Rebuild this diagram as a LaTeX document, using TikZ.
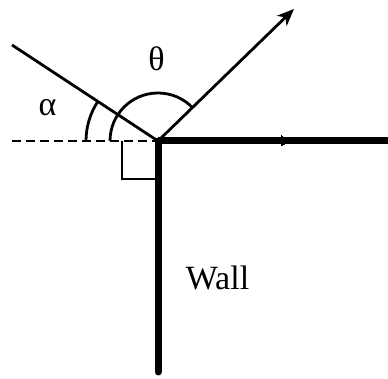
\documentclass[tikz,border=0pt]{standalone}
\usepackage{fontspec}
\setmainfont{Liberation Serif}
\usetikzlibrary{arrows.meta}
\begin{document}
\begin{tikzpicture}[x=1pt,y=1pt,
  thin line/.style={line width=2.8pt},
  wall line/.style={line width=7pt},
  lbl/.style={font=\fontsize{34}{34}\selectfont, inner sep=0pt}]
\useasboundingbox (0,0) rectangle (388,379);
\coordinate (O) at (158,238);
\coordinate (inc) at (12,334);
\coordinate (dsh) at (12,238);
\coordinate (refl) at (294,370);
\coordinate (wb) at (158,7);
\coordinate (re) at (388,238);
\coordinate (mid) at (291,238);
% wall
\draw[wall line, line cap=round] (O) -- (wb);
\draw[wall line] (O) -- (re);
\draw[line width=0pt, fill=black] (mid) -- ++(-10,5) -- ++(2,-5) -- ++(-2,-5) -- cycle;
% dashed normal
\draw[thin line, dash pattern=on 9pt off 5pt] (dsh) -- (O);
% incident
\draw[thin line] (inc) -- (O);
% reflected
\draw[thin line, -{Stealth[length=17pt,width=14pt,inset=5pt]}] (O) -- (refl);
% right angle box
\draw[thin line] (122,238) -- (122,200) -- (158,200);
% angle arcs
\draw[thin line] (86,238) arc[start angle=180, end angle=146.7, radius=72];
\draw[thin line] (110,238) arc[start angle=180, end angle=44, radius=48];
% labels
\node[lbl] (alpha) at (47.5,271) {α};
\node[lbl] (theta) at (156.5,320) {θ};
\node[lbl] (wall) at (217.5,101) {Wall};
\end{tikzpicture}
\end{document}
